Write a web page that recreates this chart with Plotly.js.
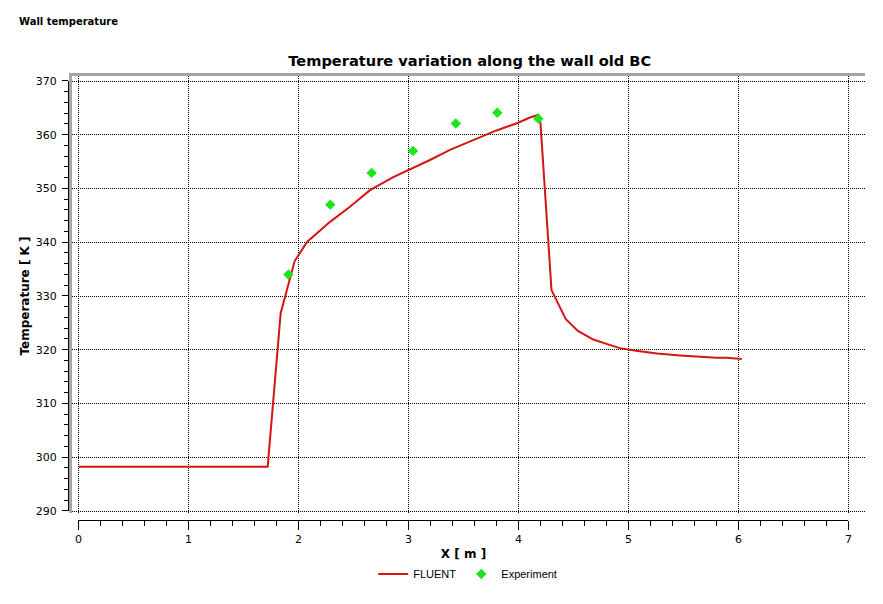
<!DOCTYPE html>
<html>
<head>
<meta charset="utf-8">
<script src="https://cdn.plot.ly/plotly-3.0.1.min.js"></script>
<style>
  body { margin: 0; background: #fff; }
  #chart { width: 883px; height: 604px; }
</style>
</head>
<body>
<div id="chart"></div>
<script>
// wall temperature, values

var fluentX = [0, 1.72, 1.838, 1.965, 2.08, 2.287, 2.468, 2.65, 2.862, 3.0, 3.195, 3.377,
  3.559, 3.74, 3.80, 3.98, 4.105, 4.18, 4.2, 4.30, 4.43, 4.54, 4.68, 4.80, 4.92, 5.07,
  5.26, 5.47, 5.65, 5.80, 5.89, 6.03];
var fluentY = [298.25, 298.25, 326.8, 336.5, 340.1, 343.8, 346.6, 349.7, 352.1, 353.4, 355.3, 357.2,
  358.7, 360.3, 360.8, 362.1, 363.2, 363.7, 362.1, 331.1, 325.7, 323.5, 321.9, 321.1, 320.3, 319.8,
  319.3, 318.95, 318.65, 318.5, 318.5, 318.3];

var expX = [1.908, 2.289, 2.665, 3.041, 3.43, 3.807, 4.18];
var expY = [334.0, 347.0, 352.9, 357.0, 362.1, 364.1, 363.0];

var fnt = 'DejaVu Sans, Verdana, sans-serif';
var legFnt = 'Liberation Sans, Arial, sans-serif';

var fluent = {
  x: fluentX,
  y: fluentY,
  name: 'FLUENT',
  mode: 'lines',
  type: 'scatter',
  line: {color: '#d41515', width: 2}
};

var experiment = {
  x: expX,
  y: expY,
  name: 'Experiment',
  mode: 'markers',
  type: 'scatter',
  marker: {symbol: 'diamond', color: '#19e619', size: 8}
};

// nothing drawn, only makes plotly build the detached scale axes
var scaleHolder = {
  x: expX,
  y: expY,
  xaxis: 'x2',
  yaxis: 'y2',
  mode: 'none',
  type: 'scatter',
  showlegend: false,
  hoverinfo: 'skip'
};

var data = [fluent, experiment, scaleHolder];

var layout = {
  width: 883,
  height: 604,
  margin: {l: 60, r: 18, t: 76, b: 74},
  paper_bgcolor: '#fff',
  plot_bgcolor: 'rgba(0,0,0,0)',
  font: {family: fnt, size: 11, color: '#000'},
  showlegend: true,
  legend: {
    orientation: 'h', x: 0.5065, xanchor: 'center', y: -0.097, yanchor: 'middle',
    font: {family: legFnt, size: 11}, itemwidth: 30, tracegroupgap: 0
  },
  title: {
    text: '<b>Temperature variation along the wall old BC</b>',
    x: 0.532, xanchor: 'center', xref: 'container',
    y: 0.9, yanchor: 'middle', yref: 'container',
    font: {family: fnt, size: 14.6}
  },
  // gridlines and grey frame
  xaxis: {
    domain: [0.014907, 1],
    range: [-0.059, 7.15],
    side: 'top',
    showline: true, linecolor: '#a4a4a4', linewidth: 3,
    showgrid: true, gridcolor: '#000', griddash: '1px,1px', gridwidth: 1,
    tick0: 0, dtick: 1,
    showticklabels: false, ticks: '', zeroline: false
  },
  yaxis: {
    domain: [0.03744, 1],
    range: [289.63, 370.93],
    showline: true, linecolor: '#a4a4a4', linewidth: 3,
    showgrid: true, gridcolor: '#000', griddash: '1px,1px', gridwidth: 1,
    tick0: 290, dtick: 10,
    showticklabels: false, ticks: '', zeroline: false
  },
  // detached scales with ticks
  xaxis2: {
    domain: [0.02298, 0.97950],
    range: [0, 7],
    anchor: 'free', position: 0.02203,
    showline: true, linecolor: '#000', linewidth: 1,
    showgrid: false, zeroline: false,
    tick0: 0, dtick: 1, ticks: 'outside', ticklen: 9, tickcolor: '#000',
    minor: {dtick: 0.2, ticks: 'outside', ticklen: 5, tickcolor: '#000', showgrid: false},
    tickfont: {family: fnt, size: 11},
    title: {text: '<b>X [ m ]</b>', font: {family: fnt, size: 12}, standoff: 4}
  },
  yaxis2: {
    domain: [0.04185, 0.98899],
    range: [290, 370],
    anchor: 'free', position: 0.009938,
    showline: true, linecolor: '#000', linewidth: 1,
    showgrid: false, zeroline: false,
    tick0: 290, dtick: 10, ticks: 'outside', ticklen: 6, tickcolor: '#000',
    ticklabelstandoff: 3,
    minor: {dtick: 2, ticks: 'outside', ticklen: 4, tickcolor: '#000', showgrid: false},
    tickfont: {family: fnt, size: 11},
    title: {text: '<b>Temperature [ K ]</b>', font: {family: fnt, size: 12}, standoff: 2}
  },
  annotations: [{
    text: '<b>Wall temperature</b>',
    xref: 'paper', yref: 'paper',
    x: -0.0534, y: 1.12, xanchor: 'left', yanchor: 'middle',
    showarrow: false, font: {family: fnt, size: 10}
  }]
};

Plotly.newPlot('chart', data, layout, {displayModeBar: false, staticPlot: true});
</script>
</body>
</html>
